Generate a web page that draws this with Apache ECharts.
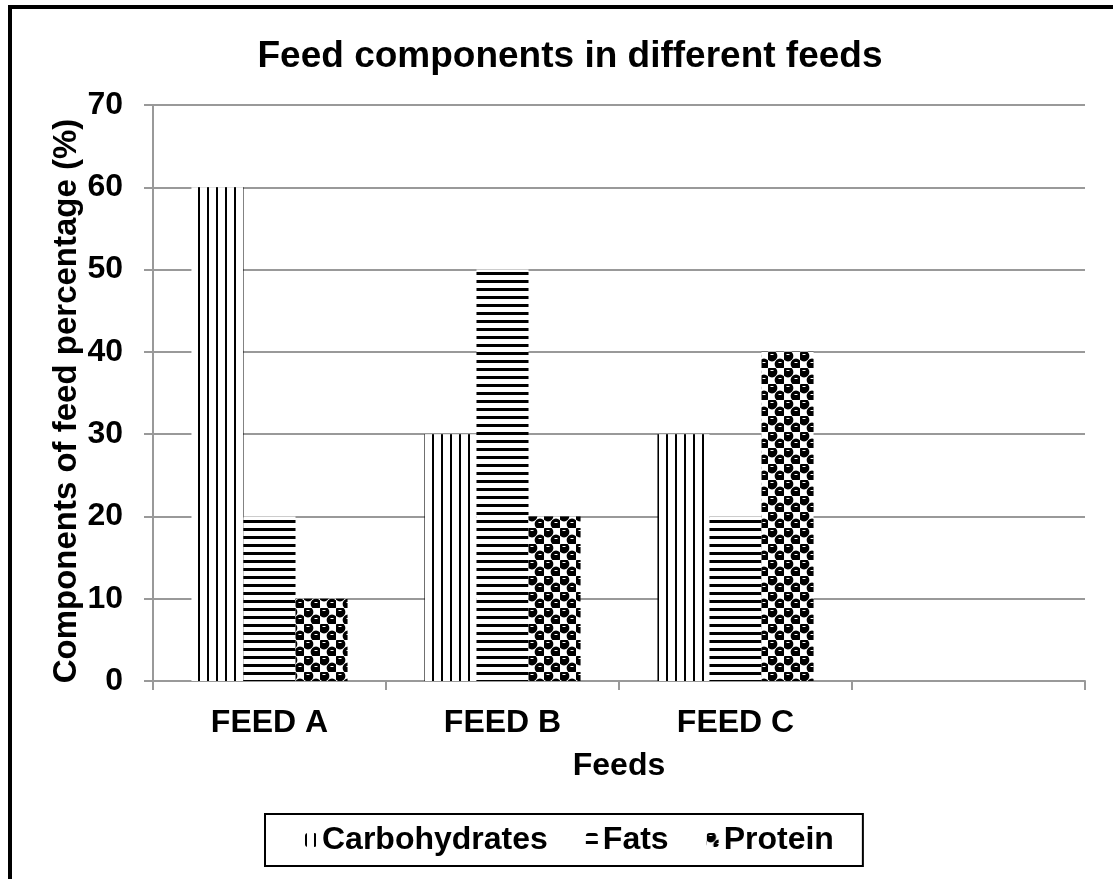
<!DOCTYPE html>
<html>
<head>
<meta charset="utf-8">
<script src="https://cdn.jsdelivr.net/npm/echarts@6/dist/echarts.min.js"></script>
<style>
  html, body { margin: 0; padding: 0; background: #fff; }
  #chart { width: 1113px; height: 879px; }
</style>
</head>
<body>
<div id="chart"></div>
<script>
  // data
  var categories = ['FEED A', 'FEED B', 'FEED C', '']
  var carbohydrates = [60, 30, 30, null]
  var fats = [20, 50, 20, null]
  var protein = [10, 20, 40, null]
  var yTicks = [0, 10, 20, 30, 40, 50, 60, 70]

  var FONT = '"Liberation Sans", Arial, sans-serif'

  // small canvas tiles used as fill patterns
  function makeTile(w, h, draw) {
    var c = document.createElement('canvas')
    c.width = w
    c.height = h
    var ctx = c.getContext('2d')
    ctx.fillStyle = '#fff'
    ctx.fillRect(0, 0, w, h)
    ctx.fillStyle = '#000'
    draw(ctx)
    return c
  }

  var vertTile = makeTile(9, 9, function(ctx) {
    ctx.fillRect(0, 0, 2, 9)
  })
  var horizTile = makeTile(8, 8, function(ctx) {
    ctx.fillRect(0, 0, 8, 3)
  })
  var dotTile = makeTile(16, 16, function(ctx) {
    ;[[4, 4], [12, 12]].forEach(function(p) {
      ctx.fillStyle = '#000'
      ctx.beginPath()
      ctx.arc(p[0], p[1], 5.4, 0, Math.PI * 2)
      ctx.fill()
      ctx.fillStyle = '#fff'
      ctx.fillRect(p[0] - 1.5, p[1] - 2, 3, 1)
    })
  })

  function pattern(tile) {
    return { image: tile, repeat: 'repeat' }
  }

  var labelStyle = { fontFamily: FONT, fontWeight: 'bold', fontSize: 32, color: '#000' }

  var chart = echarts.init(document.getElementById('chart'))
  chart.setOption({
    animation: false,
    backgroundColor: '#fff',
    textStyle: { fontFamily: FONT },
    title: {
      text: 'Feed components in different feeds',
      left: 565,
      textAlign: 'center',
      top: 33,
      textStyle: { fontFamily: FONT, fontWeight: 'bold', fontSize: 37, color: '#000' }
    },
    graphic: [{
      type: 'rect',
      shape: { x: 10, y: 7, width: 1300, height: 1000 },
      style: { fill: null, stroke: '#000', lineWidth: 4 },
      silent: true
    }],
    legend: {
      bottom: 13,
      left: 265,
      itemWidth: 12,
      itemHeight: 14,
      itemGap: 38,
      padding: [10, 29, 10, 40],
      borderColor: '#000',
      borderWidth: 2,
      textStyle: labelStyle,
      data: ['Carbohydrates', 'Fats', 'Protein']
    },
    grid: { left: 153, right: 28, top: 105, bottom: 198, containLabel: false },
    xAxis: {
      type: 'category',
      data: categories,
      name: 'Feeds',
      nameLocation: 'middle',
      nameGap: 69,
      nameMoveOverlap: false,
      nameTextStyle: labelStyle,
      axisLine: { lineStyle: { color: '#999', width: 2 } },
      axisTick: { show: true, length: 9, lineStyle: { color: '#999', width: 2 } },
      axisLabel: Object.assign({ margin: 26 }, labelStyle)
    },
    yAxis: {
      type: 'value',
      min: yTicks[0],
      max: yTicks[yTicks.length - 1],
      interval: 10,
      name: 'Components of feed percentage (%)',
      nameLocation: 'middle',
      nameGap: 70,
      nameMoveOverlap: false,
      nameTextStyle: Object.assign({}, labelStyle, { fontSize: 33, padding: [0, 16, 0, 0] }),
      axisLine: { show: true, lineStyle: { color: '#999', width: 2 } },
      axisTick: { show: true, length: 9, lineStyle: { color: '#999', width: 2 } },
      axisLabel: Object.assign({ margin: 30 }, labelStyle),
      splitLine: { lineStyle: { color: '#999', width: 2 } }
    },
    series: [
      {
        name: 'Carbohydrates',
        type: 'bar',
        data: carbohydrates,
        barGap: '0%',
        barCategoryGap: '33%',
        itemStyle: { color: pattern(vertTile) }
      },
      {
        name: 'Fats',
        type: 'bar',
        data: fats,
        itemStyle: { color: pattern(horizTile) }
      },
      {
        name: 'Protein',
        type: 'bar',
        data: protein,
        itemStyle: { color: pattern(dotTile) }
      }
    ]
  })
</script>
</body>
</html>
